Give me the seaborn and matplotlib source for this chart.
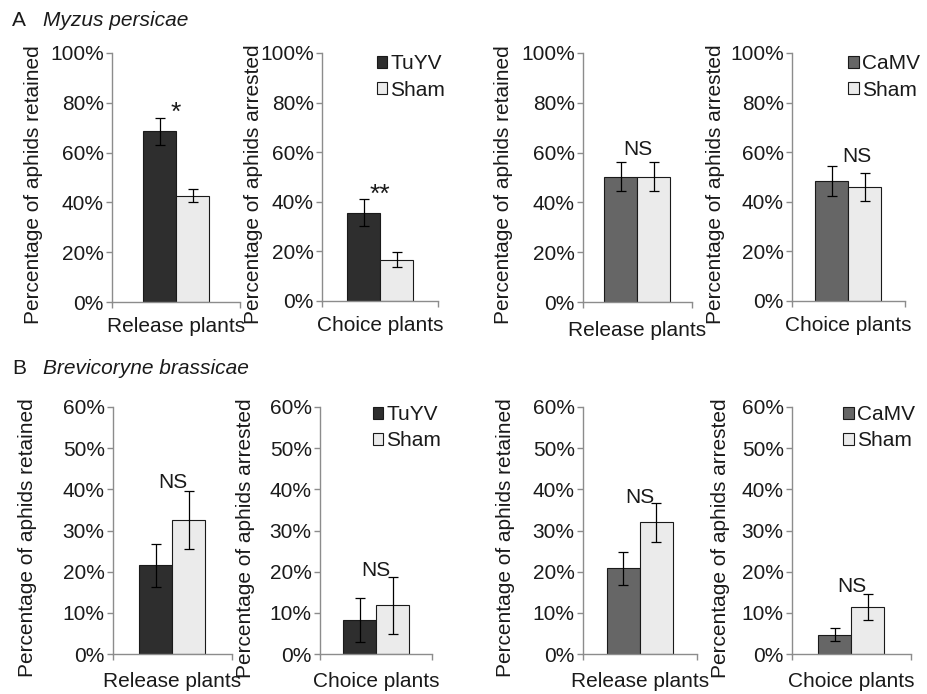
import matplotlib
matplotlib.use("Agg")
import matplotlib.pyplot as plt
import pandas as pd
import seaborn as sns
from matplotlib.patches import Patch
from matplotlib.ticker import PercentFormatter

# panels: M. persicae (TuYV release, TuYV choice, CaMV release, CaMV choice),
# then B. brassicae in the same order
virus_names  = ["TuYV", "TuYV", "CaMV", "CaMV", "TuYV", "TuYV", "CaMV", "CaMV"]
plant_labels = ["Release plants", "Choice plants"] * 4
y_labels     = ["Percentage of aphids retained", "Percentage of aphids arrested"] * 4
virus_means  = [68.6, 35.6, 50.4, 48.4, 21.5, 8.2, 20.8, 4.7]
virus_errs   = [5.4, 5.4, 5.8, 5.9, 5.3, 5.4, 4.0, 1.6]
sham_means   = [42.6, 16.7, 50.4, 46.0, 32.5, 11.8, 32.0, 11.4]
sham_errs    = [2.6, 2.9, 5.7, 5.7, 7.0, 6.9, 4.8, 3.1]
sig_labels   = ["*", "**", "NS", "NS", "NS", "NS", "NS", "NS"]
y_max        = [100, 100, 100, 100, 60, 60, 60, 60]
y_step       = [20, 20, 20, 20, 10, 10, 10, 10]
row_titles   = [("A", "Myzus persicae"), ("B", "Brevicoryne brassicae")]

colors = {"TuYV": "#2e2e2e", "CaMV": "#666666", "Sham": "#ebebeb"}

# layout, in pixels of the 928x694 canvas: left, right, top, bottom
W, H = 928, 694
boxes = [
    (112, 240, 53, 302), (322, 438, 53, 301), (583, 692, 53, 302), (792, 905, 53, 301),
    (113, 232, 407, 654), (320, 432, 407, 654), (583, 697, 407, 654), (792, 911, 407, 654),
]
ylabel_right = [43, 263, 513, 725, 37, 255, 515, 730]
xlabel_pad   = [5, 5, 8, 5, 7, 7, 7, 7]
sig_y        = [73, 40, 59, 56.2, 40.3, 19.0, 36.6, 15.1]   # baseline of the marks
sig_dx       = [0, 0, 0, 0.1, 0, 0, 0, 0]
legend_at    = {1: (0.47, 0.995), 3: (0.50, 0.995), 5: (0.47, 1.008), 7: (0.43, 1.008)}

sns.set_theme(style="white")
plt.rcParams["font.family"] = ["Liberation Sans", "DejaVu Sans"]
fs = 15
axis_grey = "#8c8c8c"
text_col = "#1a1a1a"

fig = plt.figure(figsize=(W / 100, H / 100), dpi=100)

for i in range(8):
    l, r, t, b = boxes[i]
    ax = fig.add_axes([l / W, 1 - b / H, (r - l) / W, (b - t) / H])
    df = pd.DataFrame({
        "plant": [plant_labels[i]] * 2,
        "treatment": [virus_names[i], "Sham"],
        "value": [virus_means[i], sham_means[i]],
    })
    sns.barplot(
        data=df, x="plant", y="value", hue="treatment",
        palette=[colors[virus_names[i]], colors["Sham"]],
        width=0.8, gap=0, saturation=1, errorbar=None, legend=False,
        edgecolor="#1a1a1a", linewidth=0.8, ax=ax,
    )
    bars = sorted(ax.patches, key=lambda p: p.get_x())
    xs = [p.get_x() + p.get_width() / 2 for p in bars]
    ax.errorbar(xs, [virus_means[i], sham_means[i]], yerr=[virus_errs[i], sham_errs[i]],
                fmt="none", ecolor="black", elinewidth=0.9, capsize=3.8, capthick=0.9)

    half = 0.4 * (r - l) / 33 / 2
    ax.set_xlim(-half, half)
    ax.set_xticks([-half, half])
    ax.set_xticklabels([])
    ax.set_ylim(0, y_max[i])
    ax.set_yticks(range(0, y_max[i] + 1, y_step[i]))
    ax.yaxis.set_major_formatter(PercentFormatter(decimals=0))

    sns.despine(ax=ax)
    for side in ["left", "bottom"]:
        ax.spines[side].set_color(axis_grey)
        ax.spines[side].set_linewidth(1.0)
    ax.tick_params(axis="both", direction="out", length=4, width=1.0,
                   color=axis_grey, labelcolor=text_col, labelsize=fs, pad=2)
    ax.tick_params(axis="y", left=True)
    ax.tick_params(axis="x", bottom=True)

    ax.set_xlabel(plant_labels[i], fontsize=fs, color=text_col, labelpad=xlabel_pad[i])
    ax.set_ylabel(y_labels[i], fontsize=fs, color=text_col)
    ax.yaxis.set_label_coords((ylabel_right[i] - l) / (r - l), 0.47)

    star = sig_labels[i].startswith("*")
    ax.text(sig_dx[i], sig_y[i], sig_labels[i], ha="center", va="baseline",
            fontsize=19 if star else fs, color=text_col)

    if i in legend_at:
        handles = [Patch(facecolor=colors[virus_names[i]], edgecolor="#1a1a1a", linewidth=0.8),
                   Patch(facecolor=colors["Sham"], edgecolor="#1a1a1a", linewidth=0.8)]
        ax.legend(handles, [virus_names[i], "Sham"], loc="upper left",
                  bbox_to_anchor=legend_at[i], frameon=False, fontsize=fs,
                  handlelength=0.5, handleheight=0.5, handletextpad=0.15,
                  labelspacing=0.35, borderpad=0, borderaxespad=0,
                  labelcolor=text_col)

for (letter, species), y_px in zip(row_titles, [20, 368]):
    fig.text(12 / W, 1 - y_px / H, letter, fontsize=fs, va="center", color=text_col)
    fig.text(43 / W, 1 - y_px / H, species, fontsize=fs, style="italic",
             va="center", color=text_col)

fig.savefig("out.png", dpi=100, facecolor="white")
